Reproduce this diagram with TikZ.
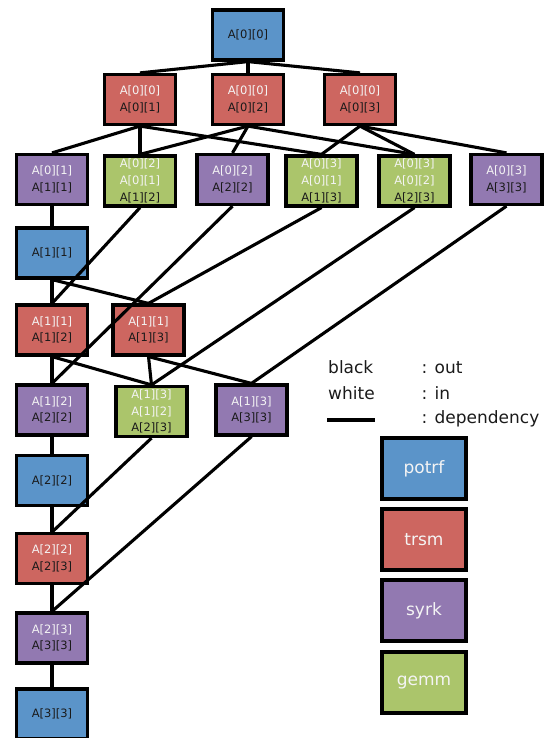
\documentclass[tikz,border=0pt]{standalone}
\usepackage{fontspec}
\setmainfont{DejaVu Sans}
\usepackage{tikz}

\definecolor{potrfc}{HTML}{5B94C9}
\definecolor{trsmc}{HTML}{CD6660}
\definecolor{syrkc}{HTML}{9279B1}
\definecolor{gemmc}{HTML}{ABC56B}
\definecolor{inc}{HTML}{F4F4F4}
\definecolor{outc}{HTML}{1A1A1A}

\newcommand{\inn}[1]{\textcolor{inc}{#1}}

\begin{document}
\begin{tikzpicture}[
  x=1pt,y=-1pt,
  box/.style={rectangle,draw=black,line width=3.2pt,minimum width=71pt,minimum height=50pt,
    inner sep=0pt,align=center,text=outc,font=\fontsize{11.5}{16.7}\selectfont},
  potrf/.style={box,fill=potrfc},
  trsm/.style={box,fill=trsmc},
  syrk/.style={box,fill=syrkc},
  gemm/.style={box,fill=gemmc},
  key/.style={box,minimum width=84pt,minimum height=61pt,text=inc,font=\fontsize{17}{20}\selectfont},
  lbl/.style={anchor=base west,inner sep=0pt,text=outc,font=\fontsize{17}{20}\selectfont},
  dep/.style={line width=3.1pt}
]
  \useasboundingbox (0,0) rectangle (549,738);

  % row 0 and 1
  \node[potrf] (p0) at (248,35) {A[0][0]};
  \node[trsm] (t01) at (140,99.5) {\inn{A[0][0]}\\A[0][1]};
  \node[trsm] (t02) at (248,99.5) {\inn{A[0][0]}\\A[0][2]};
  \node[trsm] (t03) at (360,99.5) {\inn{A[0][0]}\\A[0][3]};

  % row 2
  \node[syrk] (s01) at (52,179.5) {\inn{A[0][1]}\\A[1][1]};
  \node[gemm] (g012) at (140,181) {\inn{A[0][2]}\\\inn{A[0][1]}\\A[1][2]};
  \node[syrk] (s02) at (232.5,179.5) {\inn{A[0][2]}\\A[2][2]};
  \node[gemm] (g013) at (321.5,181) {\inn{A[0][3]}\\\inn{A[0][1]}\\A[1][3]};
  \node[gemm] (g023) at (414.5,181) {\inn{A[0][3]}\\\inn{A[0][2]}\\A[2][3]};
  \node[syrk] (s03) at (506.5,179.5) {\inn{A[0][3]}\\A[3][3]};

  % rows 3 to 5
  \node[potrf] (p1) at (52,253) {A[1][1]};
  \node[trsm] (t12) at (52,330) {\inn{A[1][1]}\\A[1][2]};
  \node[trsm] (t13) at (148.5,330) {\inn{A[1][1]}\\A[1][3]};
  \node[syrk] (s12) at (52,410) {\inn{A[1][2]}\\A[2][2]};
  \node[gemm] (g123) at (151.5,411.5) {\inn{A[1][3]}\\\inn{A[1][2]}\\A[2][3]};
  \node[syrk] (s13) at (251.5,410) {\inn{A[1][3]}\\A[3][3]};

  % rows 6 to 9
  \node[potrf] (p2) at (52,480.7) {A[2][2]};
  \node[trsm] (t23) at (52,558.7) {\inn{A[2][2]}\\A[2][3]};
  \node[syrk] (s23) at (52,638) {\inn{A[2][3]}\\A[3][3]};
  \node[potrf] (p3) at (52,714) {A[3][3]};

  % dependencies
  \draw[dep] (p0.south)--(t01.north); \draw[dep] (p0.south)--(t02.north); \draw[dep] (p0.south)--(t03.north);
  \draw[dep] (t01.south)--(s01.north); \draw[dep] (t01.south)--(g012.north); \draw[dep] (t01.south)--(g013.north);
  \draw[dep] (t02.south)--(g012.north); \draw[dep] (t02.south)--(s02.north); \draw[dep] (t02.south)--(g023.north);
  \draw[dep] (t03.south)--(g013.north); \draw[dep] (t03.south)--(g023.north); \draw[dep] (t03.south)--(s03.north);
  \draw[dep] (s01.south)--(p1.north);
  \draw[dep] (g012.south)--(t12.north);
  \draw[dep] (s02.south)--(s12.north);
  \draw[dep] (g013.south)--(t13.north);
  \draw[dep] (g023.south)--(g123.north);
  \draw[dep] (s03.south)--(s13.north);
  \draw[dep] (p1.south)--(t12.north); \draw[dep] (p1.south)--(t13.north);
  \draw[dep] (t12.south)--(s12.north); \draw[dep] (t12.south)--(g123.north);
  \draw[dep] (t13.south)--(g123.north); \draw[dep] (t13.south)--(s13.north);
  \draw[dep] (s12.south)--(p2.north);
  \draw[dep] (g123.south)--(t23.north);
  \draw[dep] (s13.south)--(s23.north);
  \draw[dep] (p2.south)--(t23.north); \draw[dep] (t23.south)--(s23.north); \draw[dep] (s23.south)--(p3.north);

  % legend
  \node[lbl] (kblack) at (328,373) {black};
  \node[lbl] (kwhite) at (328,399) {white};
  \node[lbl] (kout) at (421.5,373) {: out};
  \node[lbl] (kin) at (421.5,399) {: in};
  \node[lbl] (kdep) at (421.5,423) {: dependency};
  \coordinate (da) at (327,420);
  \coordinate (db) at (375,420);
  \draw[dep] (da)--(db);
  \node[key,fill=potrfc] (kp) at (424,468.5) {potrf};
  \node[key,fill=trsmc] (kt) at (424,539.5) {trsm};
  \node[key,fill=syrkc] (ks) at (424,610.5) {syrk};
  \node[key,fill=gemmc] (kg) at (424,682.5) {gemm};
\end{tikzpicture}
\end{document}
